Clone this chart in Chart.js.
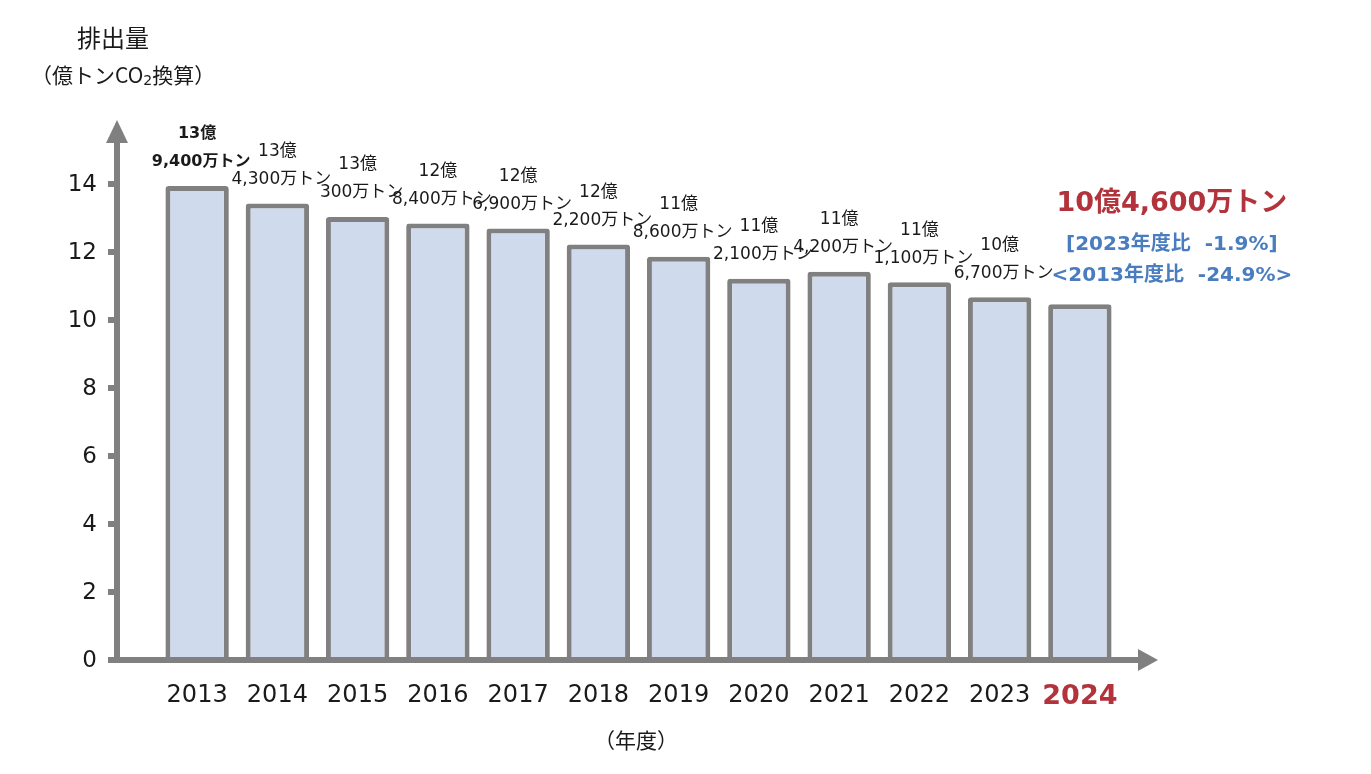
<!DOCTYPE html>
<html lang="ja">
<head>
<meta charset="utf-8">
<title>排出量</title>
<script src="https://cdn.jsdelivr.net/npm/chart.js@4.4.1/dist/chart.umd.min.js"></script>
<style>
  html, body { margin: 0; padding: 0; background: #fff; }
  #wrap { width: 1371px; height: 774px; }
</style>
</head>
<body>
<div id="wrap"><canvas id="emissionChart" width="1371" height="774"></canvas></div>
<script>
// Fiscal years and emissions (億トンCO2換算)
const years = ['2013', '2014', '2015', '2016', '2017', '2018', '2019', '2020', '2021', '2022', '2023', '2024'];
const emissions = [13.94, 13.43, 13.03, 12.84, 12.69, 12.22, 11.86, 11.21, 11.42, 11.11, 10.67, 10.46];
const yTicks = [0, 2, 4, 6, 8, 10, 12, 14];
const latestLabel = '10億4,600万トン';
const compareLabels = ['[2023年度比  -1.9%]', '<2013年度比  -24.9%>'];

const GREY = '#808080';
const RED = '#b2333b';
const BLUE = '#4a7dbf';
const TEXT = '#1a1a1a';
const LATIN = '"DejaVu Sans", "Noto Sans CJK JP", sans-serif';
const JP = '"Noto Sans CJK JP", "DejaVu Sans", sans-serif';

// 13.94 -> ['13億', '9,400万トン']
const splitLabel = v => {
  const man = Math.round(v * 10000);
  const oku = Math.floor(man / 10000);
  const rest = man % 10000;
  return [`${oku}億`, `${rest.toLocaleString('en-US')}万トン`];
};

const drawMixed = (ctx, parts, x, y) => {
  // parts: [text, font, dy] drawn left to right
  let cx = x;
  parts.forEach(([t, f, dy]) => {
    ctx.font = f;
    ctx.fillText(t, cx, y + (dy || 0));
    cx += ctx.measureText(t).width;
  });
};

const axesPlugin = {
  id: 'axesPlugin',
  afterDatasetsDraw(chart) {
    const { ctx, scales } = chart;
    const y = scales.y;
    const x = scales.x;
    const axisX = 117;
    const zeroY = y.getPixelForValue(0);
    ctx.save();

    // y axis with arrow
    ctx.fillStyle = GREY;
    ctx.fillRect(axisX - 3, 142, 6, zeroY + 3 - 142);
    ctx.beginPath();
    ctx.moveTo(axisX, 120);
    ctx.lineTo(axisX - 11, 143);
    ctx.lineTo(axisX + 11, 143);
    ctx.closePath();
    ctx.fill();

    // x axis with arrow
    const xEnd = 1138;
    ctx.fillRect(axisX - 8, zeroY - 3, xEnd - axisX + 8, 6);
    ctx.beginPath();
    ctx.moveTo(1158, zeroY);
    ctx.lineTo(xEnd, zeroY - 11);
    ctx.lineTo(xEnd, zeroY + 11);
    ctx.closePath();
    ctx.fill();

    // tick stubs and labels
    ctx.font = `23px ${LATIN}`;
    ctx.textAlign = 'right';
    ctx.textBaseline = 'middle';
    yTicks.forEach(t => {
      const py = y.getPixelForValue(t);
      ctx.fillStyle = GREY;
      ctx.fillRect(axisX - 9, py - 3, 9, 6);
      ctx.fillStyle = TEXT;
      ctx.fillText(String(t), 97, py + 1);
    });

    // year labels
    ctx.textAlign = 'center';
    years.forEach((yr, i) => {
      const px = x.getPixelForValue(i);
      const last = i === years.length - 1;
      ctx.font = last ? `bold 27px ${LATIN}` : `24px ${LATIN}`;
      ctx.fillStyle = last ? RED : TEXT;
      ctx.fillText(yr, px, last ? 697 : 696);
    });

    // value labels above bars
    const meta = chart.getDatasetMeta(0);
    emissions.forEach((v, i) => {
      if (i === emissions.length - 1) return;
      const bar = meta.data[i];
      const [l1, l2] = splitLabel(v);
      ctx.fillStyle = TEXT;
      ctx.font = i === 0 ? `bold 16px ${LATIN}` : `17px ${LATIN}`;
      ctx.fillText(l1, bar.x, bar.y - 52);
      ctx.fillText(l2, bar.x + 4, bar.y - 24);
    });

    // latest-year callout
    const lastBar = meta.data[emissions.length - 1];
    const cx = lastBar.x + 92;
    ctx.fillStyle = RED;
    ctx.font = `bold 27px ${LATIN}`;
    ctx.fillText(latestLabel, cx, 204);
    ctx.fillStyle = BLUE;
    ctx.font = `bold 20px ${LATIN}`;
    ctx.fillText(compareLabels[0], cx, 245);
    ctx.fillText(compareLabels[1], cx, 276);

    // axis titles
    ctx.fillStyle = TEXT;
    ctx.textAlign = 'left';
    ctx.font = `24px ${JP}`;
    ctx.fillText('排出量', 77, 38);
    drawMixed(ctx, [
      ['（億トンCO', `21px ${JP}`],
      ['2', `14px ${LATIN}`, 6],
      ['換算）', `21px ${JP}`],
    ], 31, 75);
    ctx.textAlign = 'center';
    ctx.font = `21px ${JP}`;
    ctx.fillText('（年度）', 636, 740);

    ctx.restore();
  },
};

const renderEmissionChart = () => {
  const ctx = document.getElementById('emissionChart').getContext('2d');

  new Chart(ctx, {
    type: 'bar',
    data: {
      labels: years,
      datasets: [
        {
          data: emissions,
          backgroundColor: '#cfdbec',
          borderColor: GREY,
          borderWidth: 5,
          borderRadius: 3,
          borderSkipped: 'start',
          categoryPercentage: 1,
          barPercentage: 0.79,
        },
      ],
    },
    options: {
      responsive: false,
      devicePixelRatio: 1,
      animation: false,
      layout: { padding: { left: 157, right: 251, top: 184, bottom: 114 } },
      plugins: {
        legend: { display: false },
        tooltip: { enabled: false },
      },
      scales: {
        x: { display: false },
        y: { display: false, min: 0, max: 14 },
      },
    },
    plugins: [axesPlugin],
  });
};

document.addEventListener('DOMContentLoaded', renderEmissionChart);
</script>
</body>
</html>
